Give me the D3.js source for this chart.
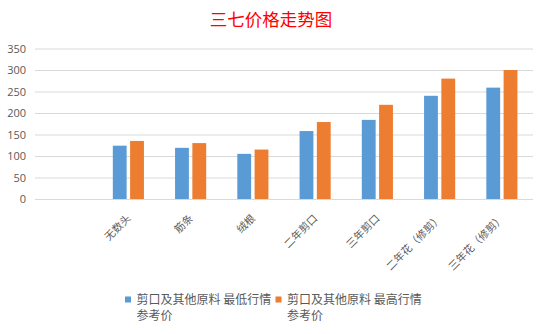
<!DOCTYPE html>
<html>
<head>
<meta charset="utf-8">
<script src="https://cdn.jsdelivr.net/npm/d3@7"></script>
<style>
  html, body { margin: 0; padding: 0; background: #fff; }
  svg { display: block; }
</style>
</head>
<body>
<svg id="chart" width="547" height="334"></svg>
<script>
// 三七价格走势图 — grouped columns, two price series per grade
const categories = ["", "无数头", "筋条", "绒根", "二年剪口", "三年剪口", "二年花（修剪）", "三年花（修剪）"];
const seriesNames = ["剪口及其他原料 最低行情参考价", "剪口及其他原料 最高行情参考价"];
const lowValues  = [null, 124, 119, 105, 158, 184, 240, 259];
const highValues = [null, 135, 130, 115, 179, 219, 280, 300];
const yTicks = [0, 50, 100, 150, 200, 250, 300, 350];
const colors = ["#5B9BD5", "#ED7D31"];

const svg = d3.select("#chart");
const textColor = "#595959";
const cjk = "'Noto Sans CJK SC', 'Noto Sans', sans-serif";

const margin = { left: 35, right: 14, top: 48.5, bottom: 135 };
const W = 547, H = 334;
const plotBottom = 199;

const x = d3.scaleBand()
  .domain(categories.map((c, i) => i))
  .range([margin.left, W - margin.right])
  .paddingInner(0.5)
  .paddingOuter(0.25);

const x1 = d3.scaleBand()
  .domain([0, 1])
  .range([0, x.bandwidth()])
  .paddingInner(0.2);

const y = d3.scaleLinear().domain([0, 350]).range([plotBottom, margin.top]);

// title
svg.append("text")
  .attr("x", 271)
  .attr("y", 26)
  .attr("text-anchor", "middle")
  .attr("fill", "#FF0000")
  .style("font-family", cjk)
  .style("font-size", "17.5px")
  .text("三七价格走势图");

// gridlines + y labels via axis
const yAxis = d3.axisLeft(y)
  .tickValues(yTicks)
  .tickSize(-(W - margin.right - margin.left))
  .tickPadding(9)
  .tickFormat(d3.format("d"));

const gy = svg.append("g")
  .attr("transform", `translate(${margin.left},0)`)
  .call(yAxis);
gy.select(".domain").remove();
gy.selectAll(".tick line").attr("stroke", "#D9D9D9").attr("stroke-width", 1);
gy.selectAll(".tick text")
  .attr("fill", textColor)
  .style("font-family", "'Open Sans', 'Liberation Sans', sans-serif")
  .style("font-size", "11px");

// bars
const series = [lowValues, highValues];
series.forEach((vals, si) => {
  svg.append("g")
    .selectAll("rect")
    .data(vals.map((v, i) => ({ i, v })).filter(d => d.v != null))
    .join("rect")
    .attr("x", d => x(d.i) + x1(si))
    .attr("width", x1.bandwidth())
    .attr("y", d => y(d.v))
    .attr("height", d => y(0) - y(d.v))
    .attr("fill", colors[si]);
});

// category labels, rotated
const gx = svg.append("g");
categories.forEach((c, i) => {
  if (!c) return;
  const cx = x(i) + x.bandwidth() / 2;
  gx.append("text")
    .attr("transform", `translate(${cx + 3},${219}) rotate(-45)`)
    .attr("text-anchor", "end")
    .attr("fill", textColor)
    .style("font-family", cjk)
    .style("font-size", "10.5px")
    .text(c);
});

// legend
const legendItems = [
  { x: 125, lines: ["剪口及其他原料 最低行情", "参考价"] },
  { x: 275.5, lines: ["剪口及其他原料 最高行情", "参考价"] }
];
legendItems.forEach((item, si) => {
  const g = svg.append("g");
  g.append("rect")
    .attr("x", item.x)
    .attr("y", 296.5)
    .attr("width", 6)
    .attr("height", 6)
    .attr("fill", colors[si]);
  const t = g.append("text")
    .attr("fill", textColor)
    .style("font-family", cjk)
    .style("font-size", "12px");
  item.lines.forEach((ln, k) => {
    t.append("tspan")
      .attr("x", item.x + 11.5)
      .attr("y", 304 + k * 16)
      .text(ln);
  });
});
</script>
</body>
</html>
